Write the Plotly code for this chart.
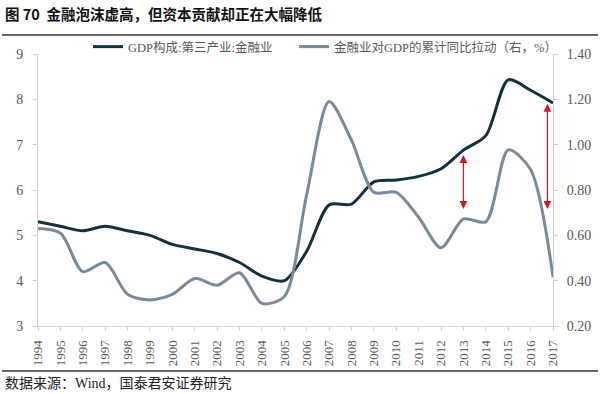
import plotly.graph_objects as go

years = list(range(1994, 2018))
gdp_share = [5.3, 5.2, 5.1, 5.2, 5.1, 5.0, 4.8, 4.7, 4.6, 4.4, 4.1, 4.0,
             4.65, 5.67, 5.69, 6.18, 6.22, 6.3, 6.47, 6.88, 7.2, 8.43, 8.2, 7.92]
pull = [0.63, 0.61, 0.44, 0.48, 0.34, 0.315, 0.34, 0.41, 0.38, 0.435, 0.30, 0.33,
        0.78, 1.19, 1.02, 0.79, 0.79, 0.68, 0.545, 0.672, 0.66, 0.977, 0.89, 0.416]

arrow_x = [2013, 2016.75]
arrow_top = [6.77, 7.9]
arrow_bottom = [5.55, 5.55]

name1 = "GDP构成:第三产业:金融业"
name2 = "金融业对GDP的累计同比拉动（右，%）"
title = "图 70  金融泡沫虚高，但资本贡献却正在大幅降低"
source = "数据来源：Wind，国泰君安证券研究"

W, H = 600, 394
L, R, T, B = 38, 47, 54, 68
pw, ph = W - L - R, H - T - B

def px_x(x):
    return (x - L) / pw

def px_y(y):
    return (H - B - y) / ph

fig = go.Figure()
fig.add_trace(go.Scatter(x=years, y=gdp_share, name=name1, mode="lines", legend="legend",
                         line=dict(color="#13303e", width=3, shape="spline", smoothing=0.8)))
fig.add_trace(go.Scatter(x=years, y=pull, name=name2, mode="lines", yaxis="y2", legend="legend2",
                         line=dict(color="#7a8a9a", width=3, shape="spline", smoothing=0.8)))

xtickfont = dict(family="Liberation Serif, Times New Roman, serif", size=13, color="#595959")
ytickfont = dict(family="Liberation Serif, Times New Roman, serif", size=14, color="#595959")
legfont = dict(family="Liberation Serif, Noto Sans CJK SC, serif", size=12.5, color="#595959")

fig.update_layout(
    width=W, height=H,
    margin=dict(l=L, r=R, t=T, b=B, autoexpand=False),
    paper_bgcolor="white", plot_bgcolor="white",
    showlegend=True,
    legend=dict(orientation="h", x=px_x(88), y=px_y(47), xanchor="left", yanchor="middle",
                font=legfont, bgcolor="rgba(0,0,0,0)", itemwidth=30),
    legend2=dict(orientation="h", x=px_x(294), y=px_y(47), xanchor="left", yanchor="middle",
                 font=legfont, bgcolor="rgba(0,0,0,0)", itemwidth=30),
    xaxis=dict(range=[1994, 2017], tickvals=years, ticktext=[str(y) for y in years],
               tickangle=-90, tickfont=xtickfont, showgrid=False, zeroline=False,
               showline=True, linecolor="#d0d0d0", linewidth=1, ticklabelstandoff=4,
               ticks="outside", ticklen=4, tickcolor="#d0d0d0"),
    yaxis=dict(range=[3, 9], dtick=1, tickfont=ytickfont, showgrid=False, zeroline=False,
               showline=True, linecolor="#d0d0d0", linewidth=1, ticklabelstandoff=7,
               ticks="outside", ticklen=4, tickcolor="#d0d0d0"),
    yaxis2=dict(range=[0.2, 1.4], dtick=0.2, tickformat=".2f", overlaying="y", side="right",
                tickfont=ytickfont, showgrid=False, zeroline=False, ticklabelstandoff=6,
                showline=True, linecolor="#d0d0d0", linewidth=1,
                ticks="outside", ticklen=4, tickcolor="#d0d0d0"),
)

for xa, yt, yb in zip(arrow_x, arrow_top, arrow_bottom):
    fig.add_annotation(x=xa, y=yt, ax=xa, ay=yb, xref="x", yref="y", axref="x", ayref="y",
                       showarrow=True, arrowhead=2, arrowsize=1.3, arrowwidth=1.2,
                       arrowcolor="#d9141b", arrowside="end+start", text="")

fig.add_annotation(x=px_x(3), y=px_y(13), xref="paper", yref="paper", xanchor="left", yanchor="middle",
                   text="<b>" + title + "</b>", showarrow=False,
                   font=dict(family="Noto Sans CJK SC", size=14.5, color="#111111"))
fig.add_annotation(x=px_x(3), y=px_y(383), xref="paper", yref="paper", xanchor="left", yanchor="middle",
                   text=source, showarrow=False,
                   font=dict(family="Liberation Serif, Noto Sans CJK SC", size=14, color="#222222"))

# horizontal rules under the title and above the source note
for yy in (35, 371):
    fig.add_shape(type="rect", xref="paper", yref="paper",
                  x0=px_x(2), x1=px_x(598), y0=px_y(yy - 0.8), y1=px_y(yy + 0.8),
                  layer="above", fillcolor="#333333", line=dict(width=0))

fig.write_html("out.html", config={"displayModeBar": False},
               post_script="document.body.style.margin='0';document.body.style.overflow='hidden';")
